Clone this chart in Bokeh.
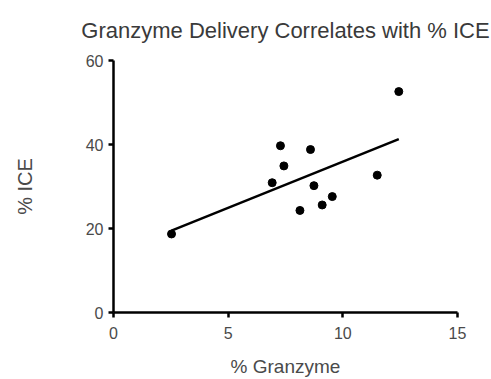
import numpy as np
from bokeh.plotting import figure
from bokeh.models import Range1d, FixedTicker
from bokeh.embed import file_html
from bokeh.resources import INLINE

# Data
granzyme_pct = [2.53, 6.92, 7.28, 7.43, 8.13, 8.59, 8.74, 9.10, 9.54, 11.50, 12.44]
ice_pct = [18.7, 30.9, 39.7, 34.9, 24.3, 38.8, 30.2, 25.6, 27.6, 32.7, 52.6]
x_ticks = [0, 5, 10, 15]
y_ticks = [0, 20, 40, 60]
title_text = "Granzyme Delivery Correlates with % ICE"
x_label = "% Granzyme"
y_label = "% ICE"

FONT = "Liberation Sans"
TEXT = "#4a4a4a"

p = figure(width=491, height=379, output_backend="svg", toolbar_location=None,
           x_range=Range1d(0, 15), y_range=Range1d(0, 60),
           min_border_left=113, min_border_right=34, min_border_top=60, min_border_bottom=66)

p.title.text = title_text
p.title.align = "center"
p.title.vertical_align = "top"
p.title.text_font = FONT
p.title.text_font_size = "22px"
p.title.text_font_style = "normal"
p.title.text_color = "#3a3a3a"
p.title.standoff = 32

p.outline_line_color = None
p.grid.visible = False
p.background_fill_color = "white"
p.border_fill_color = "white"

for ax, ticks in ((p.xaxis[0], x_ticks), (p.yaxis[0], y_ticks)):
    ax.ticker = FixedTicker(ticks=ticks)
    ax.axis_line_width = 2.5
    ax.axis_line_color = "black"
    ax.major_tick_line_width = 2.5
    ax.major_tick_line_color = "black"
    ax.major_tick_out = 5
    ax.major_tick_in = 0
    ax.minor_tick_line_color = None
    ax.major_label_text_font = FONT
    ax.major_label_text_font_size = "16px"
    ax.major_label_text_color = TEXT
    ax.axis_label_text_font = FONT
    ax.axis_label_text_font_style = "normal"
    ax.axis_label_text_color = TEXT

p.xaxis.axis_label = x_label
p.yaxis.axis_label = y_label
p.xaxis.axis_label_text_font_size = "19px"
p.yaxis.axis_label_text_font_size = "20px"
p.xaxis.major_label_standoff = 9
p.xaxis.axis_label_standoff = 14
p.yaxis.major_label_standoff = 5
p.yaxis.axis_label_standoff = 47
p.yaxis.major_label_orientation = "horizontal"

# Linear regression line
xs = np.array(granzyme_pct)
ys = np.array(ice_pct)
slope, intercept = np.polyfit(xs, ys, 1)
fx = np.array([xs.min(), xs.max()])
p.line(fx, slope * fx + intercept, line_color="black", line_width=2.5)

p.scatter(granzyme_pct, ice_pct, size=8, color="black")

open("out.html", "w").write(file_html(p, INLINE))
